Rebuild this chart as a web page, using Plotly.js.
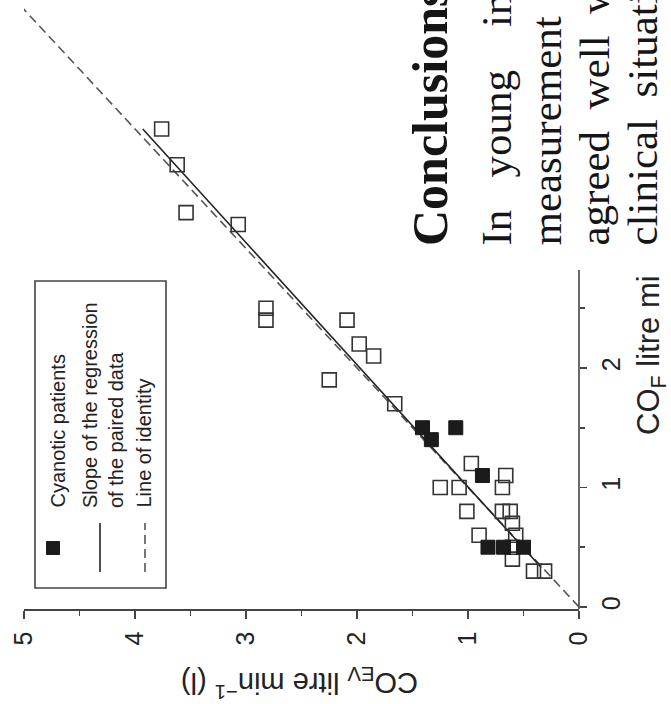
<!DOCTYPE html>
<html>
<head>
<meta charset="utf-8">
<script src="https://cdn.plot.ly/plotly-3.0.1.min.js"></script>
<style>html,body{margin:0;padding:0;background:#fff;}#chart{width:671px;height:704px;}</style>
</head>
<body>
<div id="chart"></div>
<script>
// CO_EV (litre/min) and CO_F (litre/min) for non-cyanotic patients (open squares)
const openEV = [3.76, 3.62, 3.54, 3.07, 2.82, 2.82, 2.09, 1.98, 1.85, 2.25, 1.66, 0.97, 0.66, 1.25, 1.08, 0.69, 1.01, 0.69, 0.62, 0.60, 0.90, 0.57, 0.60, 0.60, 0.41, 0.31];
const openF  = [4.0, 3.7, 3.3, 3.2, 2.5, 2.4, 2.4, 2.2, 2.1, 1.9, 1.7, 1.2, 1.1, 1.0, 1.0, 1.0, 0.8, 0.8, 0.8, 0.7, 0.6, 0.6, 0.5, 0.4, 0.3, 0.3];
// Cyanotic patients (filled squares)
const cyanEV = [1.41, 1.33, 1.11, 0.87, 0.82, 0.68, 0.50];
const cyanF  = [1.5, 1.4, 1.5, 1.1, 0.5, 0.5, 0.5];
// Line of identity and regression line end points
const identityVals = [0, 5.1];
const regF  = [0.33, 4.0];
const regEV = [0.34, 3.93];
// Axis ticks
const evTicks = [0, 1, 2, 3, 4, 5];
const evMinor = [0.5, 1.5, 2.5, 3.5, 4.5];
const fTicks = [0, 1, 2];
const fMinor = [0.5, 1.5, 2.5];
// Texts
const legendLabels = ["Cyanotic patients", "Slope of the regression<br>of the paired data", "Line of identity"];
const xTitle = "CO<sub>EV</sub> litre min<sup>\u22121</sup> (l)";
const yTitle = "CO<sub>F</sub> litre mi";
const pageLines = ["<b>Conclusions</b>", "In\u00A0\u00A0\u00A0young\u00A0\u00A0\u00A0\u00A0inc", "measurement", "agreed\u00A0\u00A0well\u00A0\u00A0w", "clinical\u00A0\u00A0situati"];

const W = 671, H = 704, L = 24, R = 92, T = 0, B = 95;
const PW = W - L - R, PH = H - T - B;
const px = X => (X - L) / PW;
const py = Y => (H - B - Y) / PH;

const axisCol = '#444';
const sans = 'Liberation Sans, Arial, sans-serif';
const serif = 'Liberation Serif, Times New Roman, serif';

const traces = [
  {x: identityVals, y: identityVals, mode: 'lines', line: {color: '#555', width: 1.6, dash: '9px,5px'}, hoverinfo: 'skip', cliponaxis: false},
  {x: regEV, y: regF, mode: 'lines', line: {color: '#222', width: 1.6}, hoverinfo: 'skip'},
  {x: openEV, y: openF, mode: 'markers', marker: {symbol: 'square-open', size: 14, color: '#333', line: {width: 1.6, color: '#333'}}},
  {x: cyanEV, y: cyanF, mode: 'markers', marker: {symbol: 'square', size: 14, color: '#1b1b1b', line: {width: 1, color: '#1b1b1b'}}}
];

const ann = [];
// axis titles
ann.push({xref: 'paper', yref: 'paper', x: px(300), y: py(705), text: xTitle, showarrow: false, textangle: 180, font: {family: sans, size: 29, color: '#222'}});
ann.push({xref: 'paper', yref: 'paper', x: px(673), y: py(437), yanchor: 'bottom', text: yTitle, showarrow: false, textangle: -90, font: {family: sans, size: 31, color: '#222'}});
// legend texts
const legX = [57, 103, 143];
legendLabels.forEach((t, i) => ann.push({xref: 'paper', yref: 'paper', x: px(legX[i]), y: py(510), yanchor: 'bottom', xanchor: 'center', align: 'left', text: t, showarrow: false, textangle: -90, font: {family: sans, size: 20, color: '#222'}}));
// page text
const pageX = [430, 496, 546, 594, 642];
pageLines.forEach((t, i) => ann.push({xref: 'paper', yref: 'paper', x: px(pageX[i]), y: py(248), yanchor: 'bottom', xanchor: 'center', align: 'left', text: t, showarrow: false, textangle: -90, font: {family: serif, size: i === 0 ? 50 : 43, color: '#151515'}}));

const shapes = [
  // right axis line (visible part)
  {type: 'line', xref: 'paper', yref: 'y', x0: 1, x1: 1, y0: -0.017, y1: 2.82, line: {color: axisCol, width: 1.6}},
  // legend box
  {type: 'rect', xref: 'paper', yref: 'paper', x0: px(35), x1: px(166), y0: py(588), y1: py(281), line: {color: axisCol, width: 1.6}},
  {type: 'rect', xref: 'paper', yref: 'paper', x0: px(46.5), x1: px(59.5), y0: py(554.5), y1: py(541.5), fillcolor: '#1b1b1b', line: {color: '#1b1b1b', width: 1}},
  {type: 'line', xref: 'paper', yref: 'paper', x0: px(100), x1: px(100), y0: py(572), y1: py(523), line: {color: '#222', width: 1.6}},
  {type: 'line', xref: 'paper', yref: 'paper', x0: px(145), x1: px(145), y0: py(572), y1: py(523), line: {color: '#555', width: 1.6, dash: '9px,5px'}}
];

const layout = {
  width: W, height: H,
  margin: {l: L, r: R, t: T, b: B, pad: 0},
  paper_bgcolor: '#fff', plot_bgcolor: '#fff',
  showlegend: false,
  xaxis: {range: [5, 0], showgrid: false, zeroline: false, showline: true, linecolor: axisCol, linewidth: 1.6,
          ticks: 'outside', ticklen: 8, tickwidth: 1.6, tickcolor: axisCol, tickvals: evTicks, ticktext: evTicks.map(String),
          minor: {tickvals: evMinor, ticks: 'outside', ticklen: 5, tickwidth: 1.6, tickcolor: axisCol},
          ticklabelstandoff: 3,
          tickangle: -90, tickfont: {family: sans, size: 25, color: '#222'}},
  yaxis: {range: [-0.017, (H - B) / 119.5 - 0.017], side: 'right', showgrid: false, zeroline: false, showline: false,
          ticks: 'outside', ticklen: 7, tickwidth: 1.6, tickcolor: axisCol, tickvals: fTicks, ticktext: fTicks.map(String),
          minor: {tickvals: fMinor, ticks: 'outside', ticklen: 5, tickwidth: 1.6, tickcolor: axisCol},
          ticklabelstandoff: 3,
          tickangle: -90, tickfont: {family: sans, size: 25, color: '#222'}},
  annotations: ann,
  shapes: shapes
};

Plotly.newPlot('chart', traces, layout, {staticPlot: true, displayModeBar: false});
</script>
</body>
</html>
